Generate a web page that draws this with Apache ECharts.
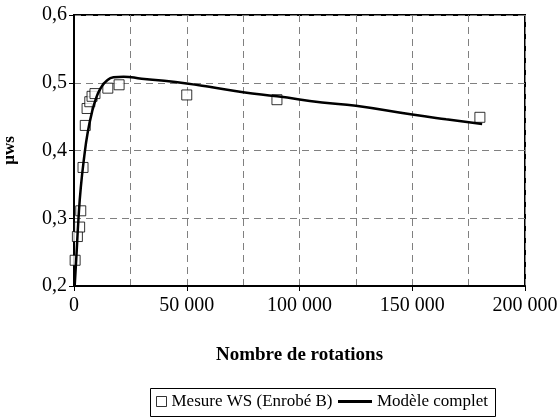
<!DOCTYPE html>
<html>
<head>
<meta charset="utf-8">
<script src="https://cdn.jsdelivr.net/npm/echarts@6/dist/echarts.min.js"></script>
<style>html,body{margin:0;padding:0;background:#fff}#c{width:560px;height:418px}</style>
</head>
<body>
<div id="c"></div>
<script>
const seriesNames = ['Mesure WS (Enrobé B)', 'Modèle complet'];
const measureX = [500, 1500, 2500, 3000, 4000, 5000, 5800, 7000, 8000, 9300, 15000, 20000, 50000, 90000, 180000];
const measureY = [0.238, 0.273, 0.287, 0.311, 0.375, 0.437, 0.462, 0.472, 0.480, 0.484, 0.492, 0.497, 0.482, 0.475, 0.449];
const modelX = [300, 1000, 2000, 3000, 4500, 6000, 8000, 10000, 12000, 14500, 17500, 22000, 30000, 40000, 50000, 60000, 75000, 90000, 110000, 125000, 150000, 165000, 181000];
const modelY = [0.200, 0.240, 0.300, 0.345, 0.390, 0.425, 0.457, 0.479, 0.493, 0.503, 0.508, 0.509, 0.506, 0.503, 0.499, 0.494, 0.486, 0.480, 0.471, 0.466, 0.453, 0.446, 0.439];

const font = 'Liberation Serif';
const chart = echarts.init(document.getElementById('c'), null, {renderer: 'canvas'});
chart.setOption({
  animation: false,
  backgroundColor: '#fff',
  grid: {left: 74, right: 35, top: 15, bottom: 132, containLabel: false, outerBoundsMode: 'none',
    show: true, borderColor: '#000', borderWidth: 2, backgroundColor: 'transparent'},
  xAxis: {
    type: 'value', min: 0, max: 200000, interval: 50000,
    name: 'Nombre de rotations', nameLocation: 'middle', nameGap: 60,
    nameTextStyle: {fontFamily: font, fontSize: 19, fontWeight: 'bold', color: '#000'},
    axisLine: {show: true, lineStyle: {color: '#000', width: 2}},
    axisTick: {show: true, length: 5, lineStyle: {color: '#000', width: 1}},
    axisLabel: {fontFamily: font, fontSize: 20, color: '#000', margin: 10,
      formatter: v => v === 0 ? '0' : String(v).replace(/\B(?=(\d{3})+(?!\d))/g, ' ')},
    splitLine: {show: true, lineStyle: {color: '#808080', type: [7, 5], width: 1}},
    minorTick: {show: false, splitNumber: 2},
    minorSplitLine: {show: true, lineStyle: {color: '#808080', type: [7, 5], width: 1}}
  },
  yAxis: {
    type: 'value', min: 0.2, max: 0.6, interval: 0.1,
    name: 'µws', nameLocation: 'middle', nameGap: 56, nameRotate: 90,
    nameTextStyle: {fontFamily: font, fontSize: 17, fontWeight: 'bold', color: '#000'},
    axisLine: {show: true, lineStyle: {color: '#000', width: 2}},
    axisTick: {show: true, length: 5, lineStyle: {color: '#000', width: 1}},
    axisLabel: {fontFamily: font, fontSize: 20, color: '#000', margin: 7,
      formatter: v => v.toFixed(1).replace('.', ',')},
    splitLine: {show: true, lineStyle: {color: '#808080', type: [7, 5], width: 1}}
  },
  graphic: [{
    type: 'rect', left: 150, top: 388, shape: {width: 345, height: 28},
    style: {fill: 'transparent', stroke: '#000', lineWidth: 1}, silent: true
  }],
  legend: [
    {
      left: 156, top: 393, padding: 0, itemWidth: 10, itemHeight: 10, itemGap: 5,
      textStyle: {fontFamily: font, fontSize: 17, color: '#000'},
      data: [{name: seriesNames[0], icon: 'path://M0,0L10,0L10,10L0,10Z',
        itemStyle: {color: '#fff', borderColor: '#000', borderWidth: 1}}]
    },
    {
      left: 338, top: 393, padding: 0, itemWidth: 34, itemHeight: 3, itemGap: 5,
      textStyle: {fontFamily: font, fontSize: 17, color: '#000'},
      data: [{name: seriesNames[1], icon: 'rect', itemStyle: {color: '#000', borderWidth: 0}}]
    }
  ],
  series: [
    {
      name: seriesNames[0], type: 'scatter', symbol: 'rect', symbolSize: 10,
      itemStyle: {color: '#fff', borderColor: '#000', borderWidth: 1},
      data: measureX.map((x, i) => [x, measureY[i]]), z: 3
    },
    {
      name: seriesNames[1], type: 'line', smooth: true, showSymbol: false, symbol: 'none',
      lineStyle: {color: '#000', width: 2.5}, itemStyle: {color: '#000'},
      data: modelX.map((x, i) => [x, modelY[i]]), z: 4
    }
  ]
});
</script>
</body>
</html>
